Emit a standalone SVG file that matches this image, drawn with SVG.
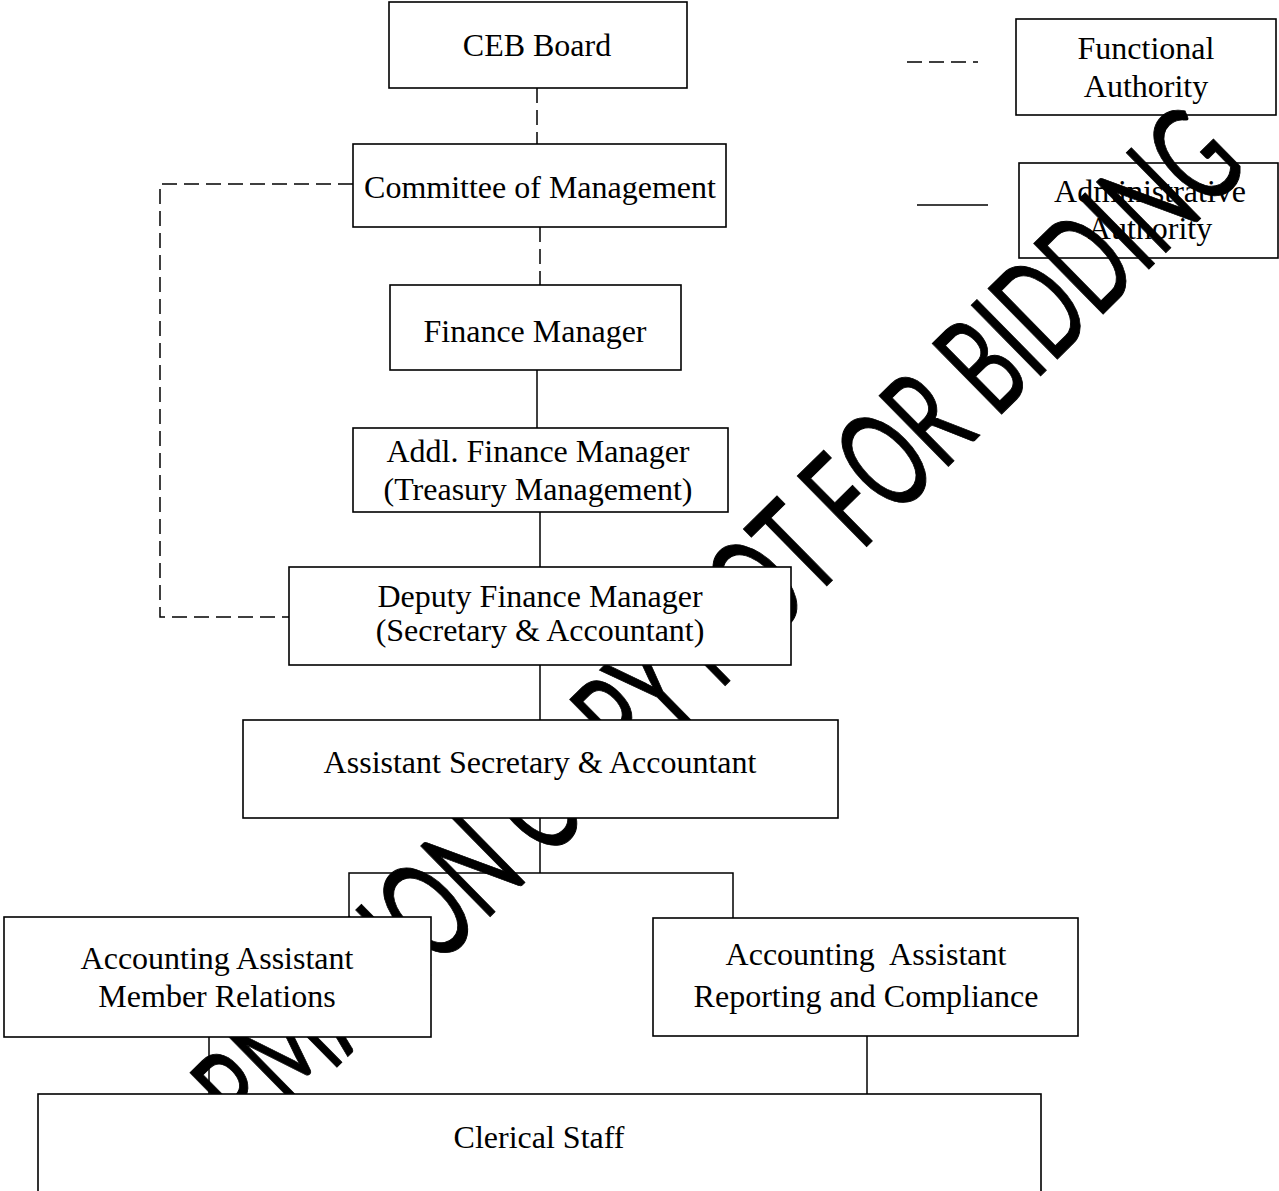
<svg xmlns="http://www.w3.org/2000/svg" width="1279" height="1191" viewBox="0 0 1279 1191">
<style>
.box{fill:#fff;stroke:#000;stroke-width:1.6}
.lbox{fill:none;stroke:#000;stroke-width:1.6}
.lbl{font-family:"Liberation Serif","Times New Roman",serif;font-size:32px;fill:#000;text-anchor:middle}
.solid{fill:none;stroke:#000;stroke-width:1.5}
.dash{fill:none;stroke:#000;stroke-width:1.5;stroke-dasharray:15 7}
.wm{font-family:Lato,"Open Sans",sans-serif;font-size:138px;fill:#000;stroke:#000;stroke-width:1}
</style>
<rect width="1279" height="1191" fill="#fff"/>
<g id="legend">
  <path class="dash" d="M907,62 H978"/>
  <path class="solid" d="M917,205 H988"/>
  <g id="legend-functional">
    <rect class="lbox" x="1016" y="19" width="260" height="96"/>
    <text class="lbl" x="1146" y="59">Functional</text>
    <text class="lbl" x="1146" y="97">Authority</text>
  </g>
  <g id="legend-administrative">
    <rect class="lbox" x="1019" y="163" width="259" height="95"/>
    <text class="lbl" x="1150" y="202">Administrative</text>
    <text class="lbl" x="1150" y="239">Authority</text>
  </g>
</g>
<g id="connectors">
  <path class="dash" d="M537,88 V144"/>
  <path class="dash" d="M540,227 V285"/>
  <path class="dash" d="M353,184 H160 V617 H289"/>
  <path class="solid" d="M537,370 V428"/>
  <path class="solid" d="M540,512 V567"/>
  <path class="solid" d="M540,665 V720"/>
  <path class="solid" d="M540,818 V873"/>
  <path class="solid" d="M349,917 V873 H733 V918"/>
  <path class="solid" d="M209,1037 V1094"/>
  <path class="solid" d="M867,1036 V1094"/>
</g>
<g id="watermark">
  <text class="wm" transform="translate(109,1291) rotate(-44.5)" x="0" y="0" textLength="1600" lengthAdjust="spacingAndGlyphs">INFORMATION COPY NOT FOR BIDDING</text>
</g>
<g id="nodes">
  <g id="ceb-board">
    <rect class="box" x="389" y="2" width="298" height="86"/>
    <text class="lbl" x="537" y="56">CEB Board</text>
  </g>
  <g id="committee">
    <rect class="box" x="353" y="144" width="373" height="83"/>
    <text class="lbl" x="540" y="198">Committee of Management</text>
  </g>
  <g id="finance-manager">
    <rect class="box" x="390" y="285" width="291" height="85"/>
    <text class="lbl" x="535" y="342">Finance Manager</text>
  </g>
  <g id="addl-finance-manager">
    <rect class="box" x="353" y="428" width="375" height="84"/>
    <text class="lbl" x="538" y="462">Addl. Finance Manager</text>
    <text class="lbl" x="538" y="500">(Treasury Management)</text>
  </g>
  <g id="deputy-finance-manager">
    <rect class="box" x="289" y="567" width="502" height="98"/>
    <text class="lbl" x="540" y="607">Deputy Finance Manager</text>
    <text class="lbl" x="540" y="641">(Secretary &amp; Accountant)</text>
  </g>
  <g id="assistant-secretary">
    <rect class="box" x="243" y="720" width="595" height="98"/>
    <text class="lbl" x="540" y="773">Assistant Secretary &amp; Accountant</text>
  </g>
  <g id="aa-member-relations">
    <rect class="box" x="4" y="917" width="427" height="120"/>
    <text class="lbl" x="217" y="969">Accounting Assistant</text>
    <text class="lbl" x="217" y="1007">Member Relations</text>
  </g>
  <g id="aa-reporting">
    <rect class="box" x="653" y="918" width="425" height="118"/>
    <text class="lbl" x="866" y="965" xml:space="preserve">Accounting  Assistant</text>
    <text class="lbl" x="866" y="1007">Reporting and Compliance</text>
  </g>
  <g id="clerical-staff">
    <rect class="box" x="38" y="1094" width="1003" height="110"/>
    <text class="lbl" x="539" y="1148">Clerical Staff</text>
  </g>
</g>
</svg>
